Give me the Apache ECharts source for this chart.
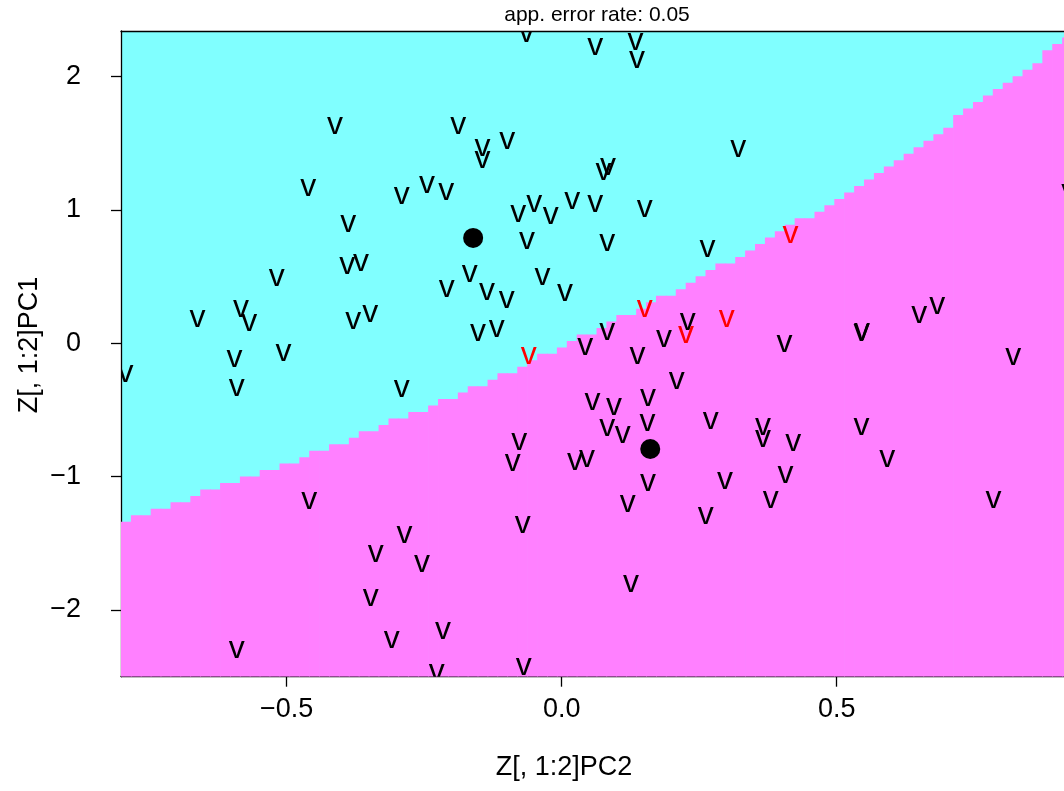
<!DOCTYPE html>
<html><head><meta charset="utf-8">
<script src="https://cdn.jsdelivr.net/npm/echarts@6/dist/echarts.min.js"></script>
<style>html,body{margin:0;padding:0;background:#fff}#c{width:1064px;height:791px}</style>
</head><body><div id="c"></div>
<script>
// ---- data ----
const pc2 = [ -0.412,-0.461,-0.388,-0.064,0.061,-0.188,-0.144,-0.144,-0.099,-0.291,
  -0.245,-0.210,-0.079,-0.050,-0.020,0.019,0.061,0.134,0.137,0.321,
  0.076,0.084,0.151,0.083,0.265,0.416,-0.063,-0.390,-0.365,-0.518,
  -0.662,-0.583,-0.568,-0.379,-0.348,-0.595,-0.506,-0.591,-0.793,-0.167,
  -0.209,-0.136,-0.100,-0.035,0.006,-0.152,-0.118,-0.060,0.043,-0.291,
  0.056,-0.077,-0.089,0.024,0.046,0.151,0.229,0.226,0.300,0.083,
  0.186,0.138,0.405,0.209,0.095,0.157,0.083,0.111,0.156,0.271,
  0.366,0.366,0.421,0.545,0.546,0.650,0.683,0.821,0.545,0.592,
  0.785,0.923,-0.459,-0.591,-0.071,-0.286,-0.338,-0.254,-0.347,-0.216,
  -0.309,-0.227,-0.069,0.157,0.120,0.297,0.262,0.407,0.380,0.126 ];
const pc1 = [ 1.625,1.160,0.893,2.318,2.218,1.625,1.460,1.373,1.512,1.100,
  1.182,1.133,0.962,1.043,0.950,1.062,1.043,2.258,2.123,1.452,
  1.283,1.317,1.005,0.750,0.702,0.809,0.760,0.575,0.595,0.488,
  0.180,0.255,0.150,0.162,0.218,-0.120,-0.075,-0.338,-0.236,0.512,
  0.400,0.380,0.320,0.492,0.372,0.070,0.102,-0.101,-0.030,-0.350,
  -0.446,-0.746,-0.900,-0.898,-0.875,0.255,0.155,0.060,0.175,0.080,
  0.030,-0.101,-0.013,-0.288,-0.480,-0.413,-0.638,-0.693,-0.600,-0.588,
  -0.630,-0.720,-0.750,0.075,0.079,0.207,0.275,-0.108,-0.633,-0.875,
  -1.181,1.125,-1.188,-2.306,-1.368,-1.443,-1.588,-1.658,-1.913,-2.164,
  -2.231,-2.476,-2.434,-1.050,-1.213,-1.038,-1.301,-0.993,-1.181,-1.808 ];
const misclassified = [ 0,0,0,0,0,0,0,0,0,0, 0,0,0,0,0,0,0,0,0,0,
  0,0,0,0,0,1,0,0,0,0, 0,0,0,0,0,0,0,0,0,0, 0,0,0,0,0,0,0,1,0,0,
  0,0,0,0,0,1,0,1,1,0, 0,0,0,0,0,0,0,0,0,0, 0,0,0,0,0,0,0,0,0,0,
  0,0,0,0,0,0,0,0,0,0, 0,0,0,0,0,0,0,0,0,0 ];
const pointLabel = 'v';
const meanPC2 = [-0.161, 0.161];
const meanPC1 = [0.791, -0.793];
// class boundary (upper edge of the magenta region) knots
const boundaryPC2 = [-0.801,-0.438,-0.300,-0.178,-0.005,0.117,0.255,0.377,0.499,0.619,0.741,0.861,0.897,1.0];
const boundaryPC1 = [-1.341,-0.808,-0.568,-0.373,-0.035,0.205,0.497,0.790,1.075,1.368,1.758,2.095,2.238,2.55];
const xTicks = [-0.5, 0, 0.5];
const xTickLabels = ['\u22120.5', '0.0', '0.5'];
const yTicks = [-2, -1, 0, 1, 2];
const yTickLabels = ['\u22122', '\u22121', '0', '1', '2'];
const titleText = 'app. error rate: 0.05';
const xName = 'Z[, 1:2]PC2';
const yName = 'Z[, 1:2]PC1';

// ---- plot ranges ----
// visible window is cut at the right edge of the picture; the class raster spans to xFull
const xMin = -0.8013, xMax = 0.9133, xFull = 1.0, yMin = -2.501, yMax = 2.343;
const nCells = 100;
const FONT = '"Liberation Sans", Arial, Helvetica, sans-serif';

function boundaryAt(x) {
  if (x <= boundaryPC2[0]) return boundaryPC1[0];
  for (let i = 1; i < boundaryPC2.length; i++) {
    if (x <= boundaryPC2[i]) {
      const t = (x - boundaryPC2[i-1]) / (boundaryPC2[i] - boundaryPC2[i-1]);
      return boundaryPC1[i-1] + t * (boundaryPC1[i] - boundaryPC1[i-1]);
    }
  }
  return boundaryPC1[boundaryPC1.length - 1];
}
const dxCell = (xFull - xMin) / nCells, dyCell = (yMax - yMin) / nCells;
const bgData = [];
for (let i = 0; i < nCells; i++) {
  const x0 = xMin + i * dxCell, x1 = x0 + dxCell;
  if (x0 > xMax) break;
  let n = Math.round((boundaryAt((x0 + x1) / 2) - yMin) / dyCell);
  n = Math.max(0, Math.min(nCells, n));
  bgData.push([x0, Math.min(x1, xMax), yMin + n * dyCell]);
}
const ptData = pc2.map((x, i) => [x, pc1[i], misclassified[i]]);
const meanData = meanPC2.map((x, i) => [x, meanPC1[i]]);

function findLabel(v, ticks, labels) {
  for (let i = 0; i < ticks.length; i++) if (Math.abs(ticks[i] - v) < 1e-9) return labels[i];
  return '';
}

const chart = echarts.init(document.getElementById('c'), null, {renderer: 'canvas'});
const axisLineStyle = {color: '#000', width: 1.3};
chart.setOption({
  animation: false,
  backgroundColor: '#fff',
  grid: {left: 121, top: 31, width: 943, height: 645.7, show: true,
         backgroundColor: '#80FFFF', borderWidth: 0},
  xAxis: [{
    type: 'value', min: xMin, max: xMax, position: 'bottom',
    axisLine: {show: true, onZero: false, lineStyle: axisLineStyle},
    axisTick: {show: true, length: 10, lineStyle: axisLineStyle, customValues: xTicks},
    axisLabel: {show: true, customValues: xTicks, margin: 19, color: '#000', fontSize: 27,
      fontFamily: FONT, formatter: v => findLabel(v, xTicks, xTickLabels)},
    splitLine: {show: false}
  }, {
    type: 'value', min: xMin, max: xMax, position: 'top',
    axisLine: {show: true, onZero: false, lineStyle: axisLineStyle},
    axisTick: {show: false}, axisLabel: {show: false}, splitLine: {show: false}
  }],
  yAxis: [{
    type: 'value', min: yMin, max: yMax, position: 'left',
    axisLine: {show: true, onZero: false, lineStyle: axisLineStyle},
    axisTick: {show: true, length: 10, lineStyle: axisLineStyle, customValues: yTicks},
    axisLabel: {show: true, customValues: yTicks, margin: 40, color: '#000', fontSize: 27,
      fontFamily: FONT, formatter: v => findLabel(v, yTicks, yTickLabels)},
    splitLine: {show: false}
  }],
  graphic: [
    {type: 'text', x: 597, y: 15, style: {text: titleText, font: '21px ' + FONT, fill: '#000',
      textAlign: 'center', textVerticalAlign: 'middle', align: 'center', verticalAlign: 'middle'}},
    {type: 'text', x: 564, y: 768, style: {text: xName, font: '27px ' + FONT, fill: '#000',
      textAlign: 'center', textVerticalAlign: 'middle', align: 'center', verticalAlign: 'middle'}},
    {type: 'text', x: 30, y: 345, rotation: Math.PI / 2, style: {text: yName, font: '27px ' + FONT, fill: '#000',
      textAlign: 'center', textVerticalAlign: 'middle', align: 'center', verticalAlign: 'middle'}}
  ],
  series: [{
    type: 'custom', name: 'region', clip: true, z: 1,
    data: bgData,
    renderItem: (params, api) => {
      const p0 = api.coord([api.value(0), api.value(2)]);
      const p1 = api.coord([api.value(1), yMin]);
      return {type: 'rect', shape: {x: p0[0], y: p0[1], width: p1[0] - p0[0] + 0.7, height: p1[1] - p0[1]},
        style: {fill: '#FF80FF'}};
    }
  }, {
    type: 'custom', name: 'points', clip: true, z: 3,
    data: ptData,
    renderItem: (params, api) => {
      const p = api.coord([api.value(0), api.value(1)]);
      return {type: 'text', x: p[0], y: p[1] - 1.5,
        style: {text: pointLabel, font: '32px ' + FONT, fill: api.value(2) ? '#FF0000' : '#000000',
          textAlign: 'center', textVerticalAlign: 'middle', align: 'center', verticalAlign: 'middle'}};
    }
  }, {
    type: 'scatter', name: 'means', z: 4, data: meanData,
    symbol: 'circle', symbolSize: 20, itemStyle: {color: '#000', opacity: 1}
  }]
});
</script></body></html>
